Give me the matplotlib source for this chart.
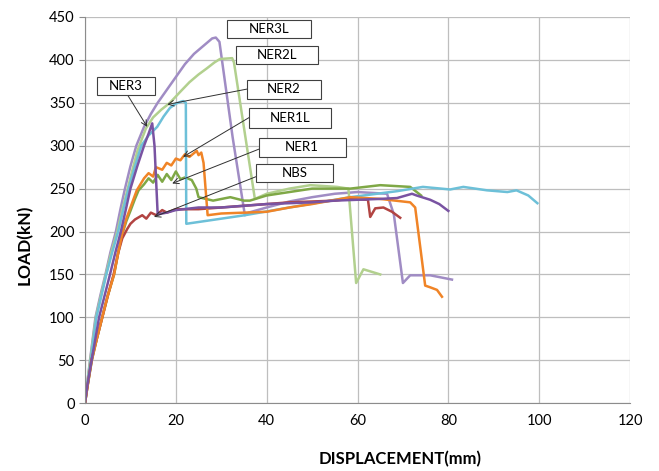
import matplotlib.pyplot as plt
from matplotlib.patches import Rectangle

plt.rcParams.update({
    "font.family": ["Lato", "DejaVu Sans"],
    "font.size": 10,
})

# ---- curves (displacement mm, load kN) ----
ner3l_x = [0, 0.5, 1.1, 2.3, 3.4, 4.5, 5.6, 6.8, 7.8, 8.8, 10, 11.3, 13, 14.5, 16,
           18, 20, 22, 24, 26, 28, 28.8, 29.6, 32.5, 35.2, 36, 40, 45, 50, 55, 60,
           66.5, 68, 70, 71.6, 76, 80.8]
ner3l_y = [0, 24, 50, 100, 126, 150, 176, 200, 226, 250, 276, 300, 322, 337, 350,
           365, 380, 395, 407, 416, 425, 426, 421, 310, 219, 222, 228, 235, 240,
           244, 246, 244, 220, 140, 149, 149, 144]

ner2l_x = [0, 0.5, 1.1, 2.4, 3.5, 4.6, 5.8, 7.1, 8.2, 9.4, 10.5, 11.6, 13.4, 15,
           16.8, 18.7, 21, 23, 25, 26.8, 28.5, 29.7, 32.4, 32.8, 37.4, 40, 45,
           49.6, 55.5, 58, 59.7, 61.3, 65]
ner2l_y = [0, 23, 48, 100, 125, 150, 176, 200, 225, 250, 273, 295, 320, 333, 342,
           350, 363, 374, 383, 390, 397, 401, 402, 397, 238, 244, 250, 254, 252,
           250, 140, 156, 150]

ner2_x = [0, 0.5, 1.2, 2.5, 3.6, 4.7, 6, 7.3, 8.4, 9.6, 11, 12.4, 14, 15.9, 17.3,
          18.7, 20, 21, 21.6, 22.2, 22.3, 35.2, 45, 58.4, 68.7, 74.4, 80.4, 83.3,
          88.5, 93, 95, 97.6, 99.6]
ner2_y = [0, 22, 48, 100, 125, 150, 176, 200, 225, 250, 276, 300, 312, 322, 334,
          344, 349, 351, 352, 350, 209, 219, 228, 240, 247, 252, 249, 252, 248,
          246, 248, 242, 233]

ner3_x = [0, 0.5, 1.3, 3.1, 4.3, 5.5, 6.7, 7.9, 9, 10, 11.5, 13, 14, 14.8, 15.3,
          16, 18, 20, 25, 30, 35, 40, 45, 50, 55, 60, 65, 68.7, 72, 73, 76, 78, 80]
ner3_y = [0, 20, 45, 100, 125, 150, 176, 200, 226, 250, 276, 300, 314, 326, 300,
          220, 222, 225, 228, 228, 230, 232, 233, 234, 236, 237, 238, 239, 244,
          242, 237, 232, 224]

ner1l_x = [0, 0.5, 1.5, 2.6, 3.8, 5, 6.4, 7.3, 8.2, 9.1, 10, 11.4, 13, 14, 15,
           15.6, 17, 18, 19, 20, 21, 22, 23, 24.6, 25, 25.6, 26.1, 27, 30, 35, 40,
           45, 50, 58.4, 65, 71.6, 72.7, 74.9, 76, 77.5, 78.6]
ner1l_y = [0, 18, 50, 75, 100, 125, 150, 175, 198, 215, 228, 248, 262, 268, 264,
           275, 272, 280, 277, 285, 283, 290, 287, 294, 289, 292, 280, 219, 221,
           222, 223, 228, 232, 240, 238, 234, 228, 137, 135, 132, 124]

ner1_x = [0, 0.5, 1.5, 2.6, 3.8, 5, 6.4, 7.3, 8.2, 9.1, 10, 11, 11.8, 13, 14, 15,
          16, 17, 18, 19, 20, 21, 22, 23.5, 24.5, 25, 28.2, 32, 35, 36.3, 40, 45,
          50, 58.4, 65, 71.6, 74]
ner1_y = [0, 18, 50, 75, 100, 125, 150, 175, 197, 212, 224, 238, 248, 255, 262,
          257, 266, 258, 267, 260, 270, 261, 263, 260, 250, 240, 236, 240, 236,
          236, 242, 246, 250, 250, 254, 252, 242]

nbs_x = [0, 0.5, 1.4, 2.6, 3.8, 5, 6.3, 7.3, 8.2, 9.3, 10, 11, 12.6, 13.5, 14.5,
         15.7, 17, 18, 20, 25, 30, 35, 40, 45, 50, 55, 58, 62.3, 62.8, 63.9, 65.7,
         67.6, 69.4]
nbs_y = [0, 18, 50, 75, 100, 125, 150, 175, 192, 203, 209, 214, 219, 215, 222,
         219, 225, 222, 226, 226, 228, 230, 232, 234, 235, 236, 238, 237, 217, 227,
         228, 223, 216]

series = [
    ("NER3L", ner3l_x, ner3l_y, "#A08CC4"),
    ("NER2L", ner2l_x, ner2l_y, "#B2D08E"),
    ("NER1", ner1_x, ner1_y, "#7FA846"),
    ("NER2", ner2_x, ner2_y, "#6DC0D8"),
    ("NBS", nbs_x, nbs_y, "#B24442"),
    ("NER1L", ner1l_x, ner1l_y, "#F08427"),
    ("NER3", ner3_x, ner3_y, "#7953A2"),
]

# callout boxes: name, centre (mm, kN), size (px), arrow start, arrow tip
callouts = [
    ("NER3L", (40.5, 436), (84, 18), None, None),
    ("NER2L", (42.3, 406), (82, 18), None, None),
    ("NER3", (9.0, 369), (58, 18), (9.5, 358), (13.7, 322)),
    ("NER2", (43.8, 366), (74, 19), (35.7, 366), (18.1, 348)),
    ("NER1L", (45.1, 332), (82, 20), (36.2, 333), (21.6, 287)),
    ("NER1", (47.8, 298), (87, 19), (38.3, 296), (19.2, 256)),
    ("NBS", (46.2, 268), (77, 18), (37.7, 264), (15.2, 217)),
]

PX_X = 545 / 120   # px per mm
PX_Y = 386 / 450   # px per kN

fig, ax = plt.subplots(figsize=(6.59, 4.71), dpi=100)
fig.subplots_adjust(left=0.129, right=0.956, top=0.964, bottom=0.144)

for name, xs, ys, c in series:
    ax.plot(xs, ys, color=c, lw=1.8, label=name)

for name, (cx, cy), (w, h), start, tip in callouts:
    wd, hd = w / PX_X, h / PX_Y
    ax.add_patch(Rectangle((cx - wd / 2, cy - hd / 2), wd, hd, fc="white",
                           ec="#404040", lw=0.8, zorder=5))
    ax.text(cx, cy, name, ha="center", va="center", fontsize=9.5, zorder=6)
    if tip is not None:
        ax.annotate("", xy=tip, xytext=start,
                    arrowprops=dict(arrowstyle="->", color="#303030", lw=0.7,
                                    shrinkA=0, shrinkB=0), zorder=4)

ax.set_xlim(0, 120)
ax.set_ylim(0, 450)
ax.set_xticks(range(0, 121, 20))
ax.set_yticks(range(0, 451, 50))
ax.grid(True, color="#BEBEBE", lw=0.9)
ax.set_axisbelow(True)
for s in ["top", "right"]:
    ax.spines[s].set_visible(False)
for s in ["left", "bottom"]:
    ax.spines[s].set_color("#8C8C8C")
ax.tick_params(axis="both", colors="#8C8C8C", labelcolor="black", length=4,
               labelsize=10.5)
ax.tick_params(axis="x", length=0, pad=8)

ax.set_xlabel("DISPLACEMENT(mm)", fontweight="bold", fontsize=12)
ax.xaxis.set_label_coords(0.578, -0.125)
ax.set_ylabel("LOAD(kN)", fontweight="bold", fontsize=12.5)
ax.yaxis.set_label_coords(-0.095, 0.41)

fig.savefig("out.png")
